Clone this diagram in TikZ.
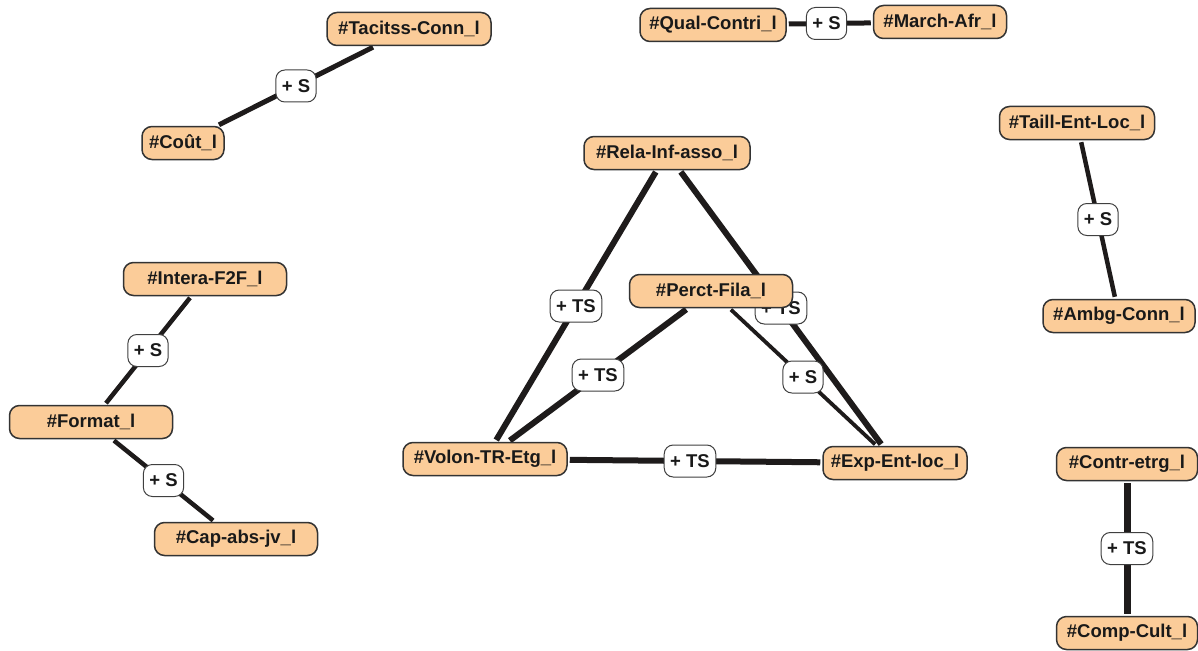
\documentclass[tikz,border=0pt]{standalone}
\usepackage{fontspec}
\setmainfont{Liberation Sans}
\usetikzlibrary{calc,backgrounds}
\definecolor{nodefill}{RGB}{251,204,153}
\definecolor{edgecol}{RGB}{30,27,27}
\begin{document}
\begin{tikzpicture}[x=1pt,y=-1pt,
  concept/.style={draw=black!80, line width=1.5pt, fill=nodefill, rounded corners=10pt,
    minimum height=33pt, inner sep=0pt, font=\fontsize{18.5}{20}\selectfont\bfseries, text=black!90},
  rel/.style={draw=black!75, line width=1pt, fill=white, rounded corners=9pt,
    minimum height=32pt, inner xsep=6pt, inner ysep=0pt, font=\fontsize{18.5}{20}\selectfont\bfseries, text=black!90},
  link/.style={draw=edgecol, line width=#1, shorten <=2pt, shorten >=2pt},
  link/.default=5pt]
\useasboundingbox (0,0) rectangle (1198,650);

% concepts
\node[concept, minimum width=164pt] (tac)   at (409,29)   {\#Tacitss-Conn\_l};
\node[concept, minimum width=82pt]  (cout)  at (183,143)  {\#Coût\_l};
\node[concept, minimum width=146pt] (qual)  at (713,25)   {\#Qual-Contri\_l};
\node[concept, minimum width=133pt] (march) at (940,22)   {\#March-Afr\_l};
\node[concept, minimum width=166pt] (rela)  at (667,153)  {\#Rela-Inf-asso\_l};
\node[concept, minimum width=155pt] (taill) at (1077,123) {\#Taill-Ent-Loc\_l};
\node[concept, minimum width=163pt] (inter) at (205,279)  {\#Intera-F2F\_l};
\node[concept, minimum width=163pt] (perct) at (711,291)  {\#Perct-Fila\_l};
\node[concept, minimum width=152pt] (ambg)  at (1119,316) {\#Ambg-Conn\_l};
\node[concept, minimum width=163pt] (form)  at (91,422)   {\#Format\_l};
\node[concept, minimum width=164pt] (volon) at (485,459)  {\#Volon-TR-Etg\_l};
\node[concept, minimum width=144pt] (exp)   at (895,463)  {\#Exp-Ent-loc\_l};
\node[concept, minimum width=141pt] (contr) at (1127,464) {\#Contr-etrg\_l};
\node[concept, minimum width=163pt] (cap)   at (236,539)  {\#Cap-abs-jv\_l};
\node[concept, minimum width=141pt] (comp)  at (1127,633) {\#Comp-Cult\_l};

\begin{scope}[on background layer]
  % connectors
  \draw[link=5pt]   (tac)   -- (cout);
  \draw[link=5pt]   (qual)  -- (march);
  \draw[link=4.5pt] (taill) -- (ambg);
  \draw[link=4.5pt] (inter) -- (form);
  \draw[link=4.5pt] (form)  -- (cap);
  \draw[link=7pt]   (contr) -- (comp);
  \draw[link=6pt]   (rela)  -- (volon);
  \draw[link=6pt]   (rela)  -- (exp);
  \draw[link=6pt]   (perct) -- (volon);
  \draw[link=3.8pt] (perct) -- (exp);
  \draw[link=6pt]   (volon) -- (exp);
  % relation labels
  \node[rel] (l1)  at ($(tac)!.5!(cout)$)    {+ S};
  \node[rel] (l2)  at ($(qual)!.5!(march)$)  {+ S};
  \node[rel] (l3)  at ($(taill)!.5!(ambg)$)  {+ S};
  \node[rel] (l4)  at ($(inter)!.5!(form)$)  {+ S};
  \node[rel] (l5)  at ($(form)!.5!(cap)$)    {+ S};
  \node[rel] (l6)  at ($(contr)!.5!(comp)$)  {+ TS};
  \node[rel] (l7)  at ($(rela)!.5!(volon)$)  {+ TS};
  \node[rel] (l8)  at ($(rela)!.5!(exp)$)    {+ TS};
  \node[rel] (l9)  at ($(perct)!.5!(volon)$) {+ TS};
  \node[rel] (l10) at ($(perct)!.5!(exp)$)   {+ S};
  \node[rel] (l11) at ($(volon)!.5!(exp)$)   {+ TS};
\end{scope}
\end{tikzpicture}
\end{document}
